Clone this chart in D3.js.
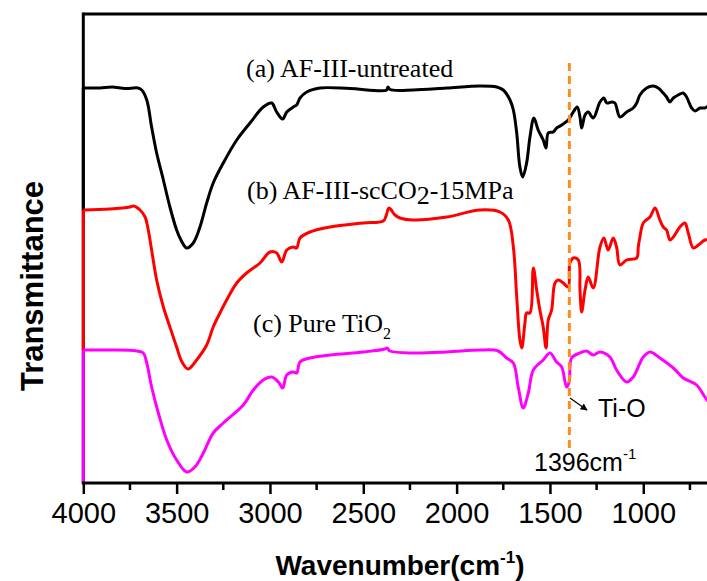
<!DOCTYPE html>
<html>
<head>
<meta charset="utf-8">
<script src="https://cdn.jsdelivr.net/npm/d3@7"></script>
<style>
  body { margin: 0; background: #fff; }
  svg { display: block; }
</style>
</head>
<body>
<svg id="chart" width="707" height="581"></svg>
<script>
// FTIR spectra, [wavenumber (cm-1), transmittance (a.u., offset stacked)]
const untreated = [
  [4000,395],[3911,395],[3846,396],[3776,394.5],[3707,395],[3687,393],[3660,383],[3634,356],
  [3607,330],[3571,303],[3536,276],[3500,253],[3477,243],[3446,235],[3411,240],[3375,256],
  [3339,280],[3304,300],[3250,320],[3178,343],[3107,360],[3036,376],[2991,380],[2964,371],
  [2932,364],[2910,371],[2875,376],[2857,378],[2839,385],[2803,391],[2732,395],[2571,394.5],
  [2375,393],[2368,396],[2357,393.5],[2232,393],[2053,395],[1875,397],[1785,396],[1750,393],
  [1714,383],[1696,373],[1678,350],[1661,316],[1646,306],[1625,320],[1607,346],[1586,365],
  [1563,353],[1536,343],[1521,335],[1509,350],[1482,351],[1464,355],[1437,358],[1402,363],
  [1375,371],[1354,376],[1339,366],[1330,355],[1312,368],[1295,371],[1268,365],[1232,381],
  [1211,385],[1196,380],[1169,381],[1152,380],[1125,366],[1089,371],[1054,375],[1035,380],
  [1018,388],[982,395],[947,397],[920,395],[893,390],[875,386],[857,381],[839,385],
  [813,388],[786,390],[768,386],[741,375],[723,372],[696,375],[670,375],[654,377]
];

const treated = [
  [4000,273],[3857,274],[3750,276],[3732,277],[3696,273],[3669,266],[3652,253],[3634,233],
  [3607,203],[3571,176],[3536,156],[3500,136],[3471,121],[3438,114],[3393,123],[3339,138],
  [3304,156],[3268,170],[3232,183],[3178,200],[3125,210],[3053,220],[3000,231],[2964,230],
  [2937,221],[2910,233],[2875,236],[2857,235],[2839,245],[2786,251],[2678,256],[2500,260],
  [2393,262],[2378,267],[2362,275],[2330,268],[2303,265],[2232,263],[2053,266],[1875,273],
  [1768,271],[1723,263],[1696,236],[1678,186],[1661,143],[1651,135],[1634,160],[1625,170],
  [1607,170],[1589,215],[1571,193],[1554,173],[1536,156],[1521,135],[1509,163],[1491,173],
  [1473,200],[1455,203],[1429,200],[1402,196],[1393,220],[1375,225],[1348,223],[1339,193],
  [1330,171],[1312,193],[1295,206],[1268,195],[1232,236],[1211,245],[1188,233],[1161,245],
  [1143,236],[1125,218],[1089,223],[1035,225],[1027,236],[1018,246],[1000,260],[964,266],
  [937,275],[911,263],[893,256],[875,253],[857,243],[839,246],[804,256],[777,260],
  [759,250],[732,235],[705,238],[670,243],[654,243]
];

const pureTiO2 = [
  [4000,133],[3857,133],[3714,132],[3679,130],[3660,120],[3634,96],[3598,70],[3553,43],
  [3500,23],[3446,11],[3402,16],[3357,30],[3304,50],[3250,60],[3143,78],[3089,93],
  [3036,103],[2991,106],[2955,101],[2932,95],[2910,108],[2875,111],[2857,110],[2839,121],
  [2786,125],[2678,128],[2500,131],[2384,134],[2373,135],[2357,132],[2232,130],[2053,131],
  [1875,133],[1777,132],[1732,125],[1696,120],[1670,96],[1643,75],[1616,90],[1589,113],
  [1536,123],[1500,130],[1464,121],[1437,116],[1411,96],[1397,101],[1384,125],[1339,130],
  [1304,132],[1268,128],[1232,131],[1179,126],[1143,113],[1089,101],[1054,106],[1000,126],
  [964,131],[911,125],[839,115],[786,105],[714,98],[670,86],[654,82]
];

const seriesColors = ["#000000", "#ff0000", "#ff00ff"];
const majorTicks = [4000, 3500, 3000, 2500, 2000, 1500, 1000];
const minorTicks = [3750, 3250, 2750, 2250, 1750, 1250, 750];
const markerWavenumber = 1396;
const markerSpan = [31, 420];

const svg = d3.select("#chart");
const plot = { left: 83.3, right: 708.6, top: 14, bottom: 483 };

const x = d3.scaleLinear().domain([4000, 650]).range([plot.left, plot.right]);
const y = d3.scaleLinear().domain([0, plot.bottom - plot.top]).range([plot.bottom, plot.top]);

const serif = "'Liberation Serif', 'Times New Roman', serif";
const sans = "'Liberation Sans', Arial, sans-serif";

// frame: top border and left axis
svg.append("line")
  .attr("x1", plot.left).attr("x2", 707).attr("y1", plot.top).attr("y2", plot.top)
  .attr("stroke", "#000").attr("stroke-width", 3);
svg.append("line")
  .attr("x1", plot.left).attr("x2", plot.left).attr("y1", plot.top - 1.5).attr("y2", plot.bottom)
  .attr("stroke", "#000").attr("stroke-width", 3);

// spectra
const line = d3.line()
  .x(d => x(d[0]))
  .y(d => y(d[1]))
  .curve(d3.curveCatmullRom.alpha(0.5));

const allSeries = [untreated, treated, pureTiO2];
allSeries.forEach((s, i) => {
  svg.append("path")
    .datum(s)
    .attr("d", line)
    .attr("fill", "none")
    .attr("stroke", seriesColors[i])
    .attr("stroke-width", 3)
    .attr("stroke-linejoin", "round");
  // vertical lead-in along the left edge down to the next spectrum's start
  const nextStart = i + 1 < allSeries.length ? allSeries[i + 1][0][1] : 0;
  svg.append("line")
    .attr("x1", x(s[0][0])).attr("x2", x(s[0][0]))
    .attr("y1", y(s[0][1])).attr("y2", y(nextStart))
    .attr("stroke", seriesColors[i]).attr("stroke-width", 3);
});

// bottom axis with major and minor ticks
const axisG = svg.append("g").attr("transform", `translate(0,${plot.bottom})`);
axisG.append("line")
  .attr("x1", plot.left - 1.5).attr("x2", 707).attr("y1", 0).attr("y2", 0)
  .attr("stroke", "#000").attr("stroke-width", 3);
axisG.selectAll(".minor").data(minorTicks).join("line")
  .attr("x1", d => x(d)).attr("x2", d => x(d)).attr("y1", 0).attr("y2", 7)
  .attr("stroke", "#000").attr("stroke-width", 2.5);
const xAxis = d3.axisBottom(x).tickValues(majorTicks).tickSize(11).tickPadding(8)
  .tickFormat(d3.format("d"));
const xa = axisG.append("g").call(xAxis);
xa.select(".domain").remove();
xa.selectAll(".tick line").attr("stroke", "#000").attr("stroke-width", 2.5);
xa.selectAll(".tick text")
  .attr("fill", "#000")
  .style("font-family", sans)
  .style("font-size", "29px");

// axis titles
const xTitle = svg.append("text")
  .attr("x", 400).attr("y", 575)
  .attr("text-anchor", "middle")
  .style("font-family", sans).style("font-size", "28px").style("font-weight", "bold");
xTitle.append("tspan").text("Wavenumber(cm");
xTitle.append("tspan").text("-1").style("font-size", "17px").attr("dy", -12);
xTitle.append("tspan").text(")").attr("dy", 12);

svg.append("text")
  .attr("transform", "translate(43,286) rotate(-90)")
  .attr("text-anchor", "middle")
  .style("font-family", sans).style("font-size", "31px").style("font-weight", "bold")
  .text("Transmittance");

// series labels
function label(xp, yp, parts) {
  const t = svg.append("text").attr("x", xp).attr("y", yp)
    .style("font-family", serif).style("font-size", "26px").attr("fill", "#000");
  parts.forEach(p => {
    const ts = t.append("tspan").text(p.text);
    if (p.sub) ts.style("font-size", p.sub).attr("dy", p.dy);
    else if (p.dy) ts.attr("dy", p.dy);
  });
}
label(246, 77, [{ text: "(a) AF-III-untreated" }]);
label(247, 199, [{ text: "(b) AF-III-scCO" }, { text: "2", sub: "26px", dy: 5 }, { text: "-15MPa", dy: -5 }]);
label(253, 332, [{ text: "(c) Pure TiO" }, { text: "2", sub: "16px", dy: 7 }]);

// 1396 cm-1 marker
svg.append("line")
  .attr("x1", x(markerWavenumber)).attr("x2", x(markerWavenumber))
  .attr("y1", y(markerSpan[1])).attr("y2", y(markerSpan[0]))
  .attr("stroke", "#ff8c1a").attr("stroke-width", 3)
  .attr("stroke-dasharray", "8,5");

const mText = svg.append("text")
  .attr("x", 534).attr("y", 471)
  .style("font-family", sans).style("font-size", "25px").attr("fill", "#000");
mText.append("tspan").text(markerWavenumber + "cm");
mText.append("tspan").text("-1").style("font-size", "15px").attr("dy", -12);

// Ti-O arrow
svg.append("defs").append("marker")
  .attr("id", "arrowhead").attr("viewBox", "0 0 10 10")
  .attr("refX", 9).attr("refY", 5).attr("markerWidth", 9).attr("markerHeight", 7)
  .attr("markerUnits", "userSpaceOnUse").attr("orient", "auto")
  .append("path").attr("d", "M0,0 L10,5 L0,10 Z").attr("fill", "#000");
svg.append("line")
  .attr("x1", 570).attr("y1", 398).attr("x2", 587).attr("y2", 410)
  .attr("stroke", "#000").attr("stroke-width", 1.2)
  .attr("marker-end", "url(#arrowhead)");
svg.append("text")
  .attr("x", 598).attr("y", 417)
  .style("font-family", sans).style("font-size", "25px").attr("fill", "#000")
  .text("Ti-O");
</script>
</body>
</html>
